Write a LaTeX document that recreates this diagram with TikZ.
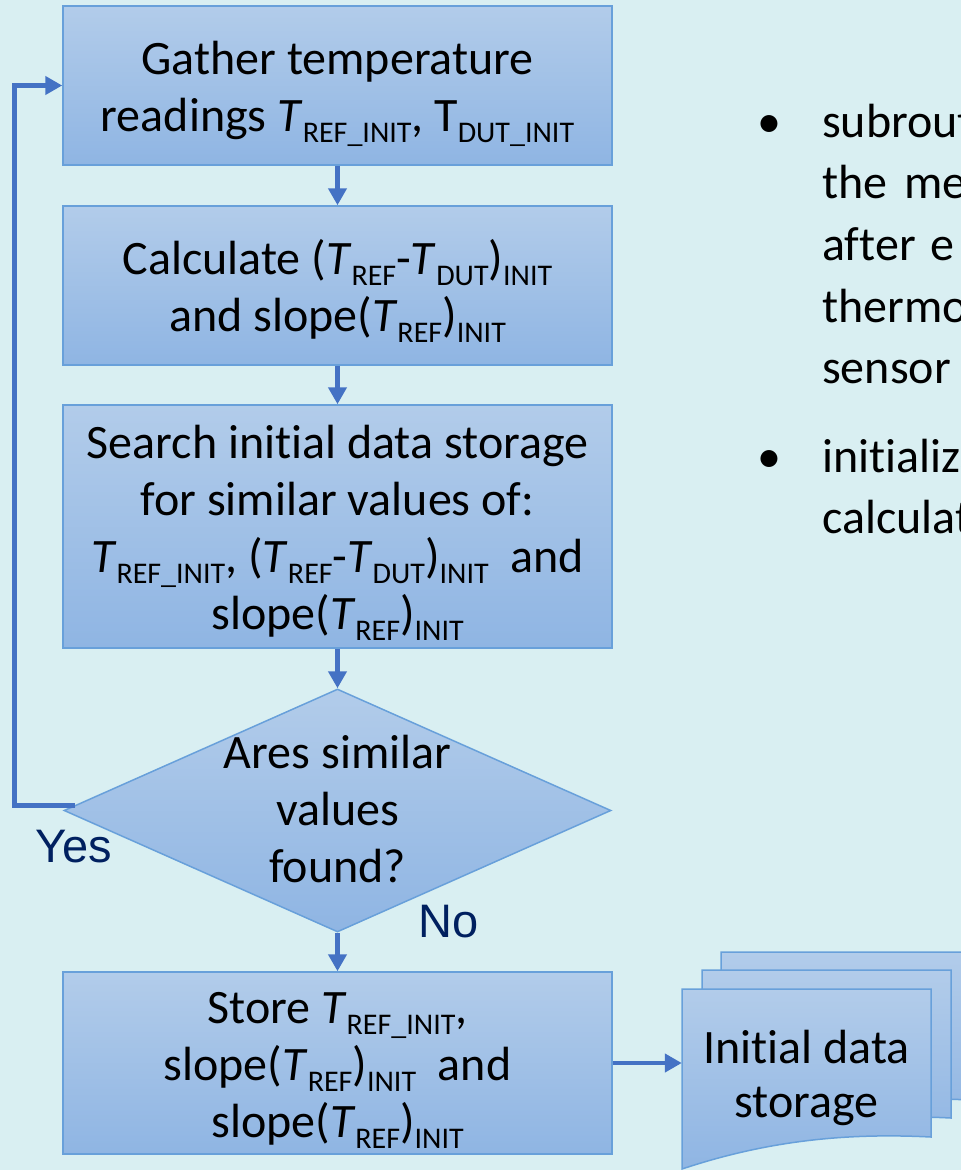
\documentclass[tikz,border=0pt]{standalone}
\usepackage{fontspec}
\setmainfont{Carlito}[Ligatures=NoCommon]
\newfontfamily\labelfont{Liberation Sans}
\usetikzlibrary{arrows.meta,shapes.geometric}

\definecolor{bg}{RGB}{217,239,242}
\definecolor{boxtop}{RGB}{178,204,234}
\definecolor{boxbot}{RGB}{143,181,227}
\definecolor{boxline}{RGB}{104,160,218}
\definecolor{flow}{RGB}{68,114,196}
\definecolor{navy}{RGB}{0,32,96}

% subscript, italic T and struts for the box texts
\newcommand{\sbs}[1]{\raisebox{-11pt}{\fontsize{30}{30}\selectfont #1}}
\newcommand{\Ti}{\textit{T}}
\newcommand{\tpst}{\rule{0pt}{51pt}}
\newcommand{\btst}{\rule[-17pt]{0pt}{17pt}}

\tikzset{
  shaded/.style={draw=boxline, line width=1.5pt, top color=boxtop, bottom color=boxbot},
  flowbox/.style={shaded, rectangle, minimum width=549pt, inner sep=0pt,
    align=center, font=\fontsize{48}{57}\selectfont},
  txt/.style={inner sep=0pt, align=center, font=\fontsize{48}{57}\selectfont},
  arr/.style={draw=flow, line width=4.5pt, -{Triangle[length=17pt,width=18pt]}},
  lbl/.style={inner sep=0pt, anchor=base west, text=navy,
    font=\labelfont\fontsize{47}{47}\selectfont},
  note/.style={inner sep=0pt, anchor=base west, font=\fontsize{48}{48}\selectfont},
  pics/docsheet/.style={code={
    \path[shaded] (0,0) -- (249,0) -- (249,148)
      .. controls (170,144) and (90,150) .. (0,180) -- cycle;}}
}

\begin{document}
\begin{tikzpicture}[x=1pt,y=-1pt]
\useasboundingbox (0,0) rectangle (961,1170);
\clip (0,0) rectangle (961,1170);
\fill[bg] (0,0) rectangle (961,1170);

% flow chart
\node[flowbox, minimum height=159pt] (gather) at (337.5,85.5)
  {\tpst Gather temperature\\readings \Ti\sbs{REF\_INIT}, T\sbs{DUT\_INIT}\btst};
\node[flowbox, minimum height=159pt] (calc) at (337.5,285.5)
  {\tpst Calculate (\Ti\sbs{REF}-\Ti\sbs{DUT})\sbs{INIT}\\and slope(\Ti\sbs{REF})\sbs{INIT}\btst};
\node[flowbox, minimum height=243pt] (search) at (337.5,526.5)
  {\tpst Search initial data storage\\for similar values of:\\\Ti\sbs{REF\_INIT}, (\Ti\sbs{REF}-\Ti\sbs{DUT})\sbs{INIT}\ \ and\\slope(\Ti\sbs{REF})\sbs{INIT}\btst};
\node[shaded, diamond, minimum width=547pt, minimum height=243pt, inner sep=0pt]
  (found) at (337.5,810.5) {};
\node[txt] (foundtext) at (337.5,808.5) {\tpst Ares similar\\values\\found?\btst};
\node[flowbox, minimum height=180pt] (store) at (337.5,1063)
  {\tpst Store \Ti\sbs{REF\_INIT},\\slope(\Ti\sbs{REF})\sbs{INIT}\ \ and\\slope(\Ti\sbs{REF})\sbs{INIT}\btst};

% stacked document sheets
\pic at (721,952) {docsheet};
\pic at (702,970) {docsheet};
\pic at (682,989) {docsheet};
\node[minimum width=249pt, minimum height=148pt, inner sep=0pt] (docs) at (806.5,1063) {};
\node[txt, font=\fontsize{48}{54}\selectfont] (doctext) at (806.5,1073)
  {\tpst Initial data\\storage\btst};

% connectors
\draw[arr] (gather) -- (calc);
\draw[arr] (calc) -- (search);
\draw[arr] (search) -- (found);
\draw[arr] (found) -- (store);
\draw[arr] (store.east) -- (docs.west);
\coordinate (yesstart) at ([xshift=12pt,yshift=5pt]found.west);
\draw[arr] (yesstart) -| ([xshift=-48pt]gather.west) -- (gather.west);

\node[lbl] (yes) at (35,862) {Yes};
\node[lbl] (no) at (418,937) {No};

% notes on the right
\node[note, anchor=base] (bulA) at (769,137) {\textbullet};
\node[note] (nA1) at (822,137) {subrout};
\node[note] (nA2) at (822,198) {the\hspace{17pt}me};
\node[note] (nA3) at (822,260) {after\hspace{15pt}e};
\node[note] (nA4) at (822,322) {thermo};
\node[note] (nA5) at (822,383) {sensor};
\node[note, anchor=base] (bulB) at (769,472) {\textbullet};
\node[note] (nB1) at (822,472) {initializa};
\node[note] (nB2) at (822,533) {calculat};
\end{tikzpicture}
\end{document}
